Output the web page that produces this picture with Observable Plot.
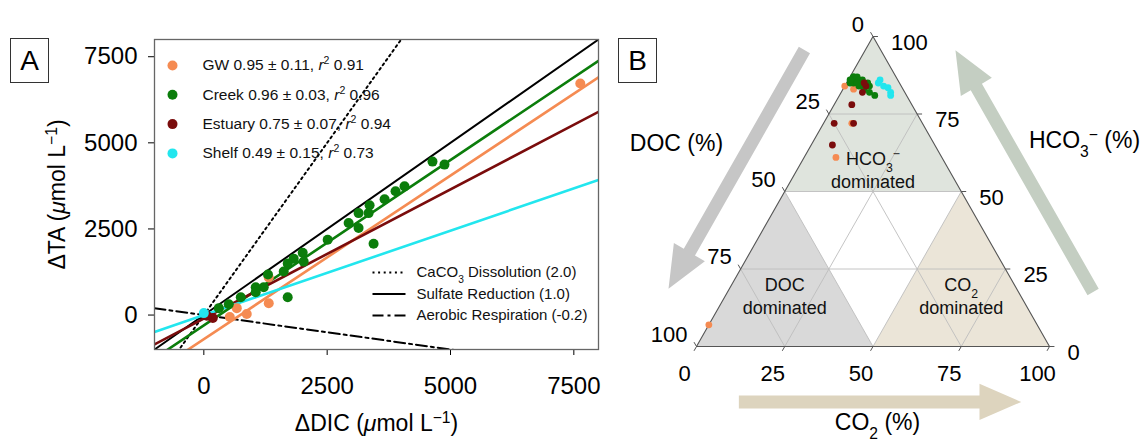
<!DOCTYPE html>
<html><head><meta charset="utf-8">
<script src="https://cdn.jsdelivr.net/npm/d3@7"></script>
<script src="https://cdn.jsdelivr.net/npm/@observablehq/plot@0.6"></script>
<style>
body{margin:0;background:#fff;}
#wrap{position:relative;width:1147px;height:440px;font-family:"Liberation Sans",Arial,sans-serif;background:#fff;overflow:hidden;}
.panel{position:absolute;top:0;}
.tag{position:absolute;border:1px solid #333;font-size:28px;display:flex;align-items:center;justify-content:center;box-sizing:border-box;background:#fff;color:#000;}
</style></head><body>
<div id="wrap">
 <div id="pa" class="panel" style="left:0"></div>
 <div id="pb" class="panel" style="left:600px"></div>
 <div class="tag" style="left:10px;top:38px;width:39px;height:45px">A</div>
 <div class="tag" style="left:618px;top:38px;width:39px;height:45px">B</div>
</div>
<script>
// ---------------- DATA ----------------
// Panel A
const groups = ["GW", "Creek", "Estuary", "Shelf"];
const slopes = [0.95, 0.96, 0.75, 0.49];
const slopeErr = [0.11, 0.03, 0.07, 0.15];
const r2 = [0.91, 0.96, 0.94, 0.73];
const intercepts = [-700, -300, -100, 0];

const gwDIC = [7631, 1316, 1316, 668, 870, 526];
const gwTA  = [6725, 1092, 345, 201, 29, -57];
const creekDIC = [4635, 4878, 4068, 3886, 3664, 3360, 3137, 3340, 2935, 3137, 3441, 2510, 2004, 2024, 1822, 1700, 1619, 1300, 1214, 1052, 1052, 749, 1700, 506, 304];
const creekTA  = [4455, 4368, 3736, 3592, 3362, 3190, 2960, 2960, 2673, 2529, 2069, 2184, 1811, 1552, 1638, 1494, 1265, 1180, 805, 805, 661, 517, 517, 316, 201];
const estDIC = [182, 60];
const estTA  = [-86, -20];
const shelfDIC = [0];
const shelfTA  = [57];

const refNames = ["CaCO{_3} Dissolution", "Sulfate Reduction", "Aerobic Respiration"];
const refSlopes = [2.0, 1.0, -0.2];

const xDomain = [-1000, 8000];
const yDomain = [-1000, 8000];
const xTicks = [0, 2500, 5000, 7500];
const yTicks = [0, 2500, 5000, 7500];

// Panel B (ternary, percent)
const ternTicks = [0, 25, 50, 75, 100];
const ternGrid = [25, 50, 75];
const gwCO2 = [0, 3, 8, 9, 0];
const gwHCO3 = [84, 83, 72, 61, 7];
const creekCO2 = [1, 1, 1, 2, 3, 4, 6, 7, 10, 2, 4, 6, 8, 1, 0.5, 3, 5];
const creekHCO3 = [87, 87, 86, 87, 86, 86, 85, 84, 81, 85, 84, 83, 82, 85, 86, 85, 84.5];
const estCO2 = [6, 6, 5, 3, 8.5, 6, 5];
const estHCO3 = [84, 82, 78, 72, 72, 65, 85];
const shelfCO2 = [9, 11, 12.5, 14, 14.5, 9];
const shelfHCO3 = [86, 84, 83.5, 82, 81, 85];

// ---------------- STYLE ----------------
const FONT = '"Liberation Sans", Arial, Helvetica, sans-serif';
const colors = ["#f58b52", "#0b7d0b", "#7a0c0c", "#22e6ee"];
const refDash = ["2,3.6", null, "11,4,3,4"];
const fmt = d3.format("d");

// rich text: {_x} subscript, {^x} superscript, {*x} italic
function rich(root) {
  const nodes = [...root.querySelectorAll("text, tspan")].filter(n => n.children.length === 0 && /\{[_^*]/.test(n.textContent));
  for (const n of nodes) {
    const s = n.textContent; n.textContent = "";
    const re = /\{([_^*])([^}]*)\}/g; let last = 0, m;
    const add = (t, k) => {
      const ts = document.createElementNS("http://www.w3.org/2000/svg", "tspan");
      ts.textContent = t;
      if (k === "^") { ts.setAttribute("baseline-shift", "super"); ts.setAttribute("font-size", "68%"); }
      if (k === "_") { ts.setAttribute("baseline-shift", "sub"); ts.setAttribute("font-size", "68%"); }
      if (k === "*") ts.setAttribute("font-style", "italic");
      n.appendChild(ts);
    };
    while ((m = re.exec(s))) { if (m.index > last) add(s.slice(last, m.index)); add(m[2], m[1]); last = re.lastIndex; }
    if (last < s.length) add(s.slice(last));
  }
}

// ---------------- PANEL A ----------------
const ptsA = [[gwDIC, gwTA], [creekDIC, creekTA], [estDIC, estTA], [shelfDIC, shelfTA]];
const marksA = [
  Plot.axisX({ticks: xTicks, tickFormat: fmt, tickSize: 6, tickPadding: 21, fontSize: 24, label: null}),
  Plot.axisY({ticks: yTicks, tickFormat: fmt, tickSize: 6, tickPadding: 11, fontSize: 24, label: null}),
];
refSlopes.forEach((s, i) => {
  marksA.push(Plot.line(xDomain.map(x => ({x, y: s * x})), {x: "x", y: "y", stroke: "#000", strokeWidth: 2, strokeDasharray: refDash[i], clip: true}));
});
groups.forEach((g, i) => {
  marksA.push(Plot.line(xDomain.map(x => ({x, y: slopes[i] * x + intercepts[i]})), {x: "x", y: "y", stroke: colors[i], strokeWidth: 2.6, clip: true}));
});
groups.forEach((g, i) => {
  marksA.push(Plot.dot(d3.zip(ptsA[i][0], ptsA[i][1]), {x: d => d[0], y: d => d[1], r: 5, fill: colors[i], clip: true}));
});
marksA.push(Plot.frame({stroke: "#666", strokeWidth: 1.3}));
groups.forEach((g, i) => {
  const label = `${g} ${slopes[i].toFixed(2)} ± ${slopeErr[i].toFixed(2)}, {*r}{^2} ${r2[i].toFixed(2)}`;
  marksA.push(Plot.dot([g], {frameAnchor: "top-left", dx: 18, dy: 26 + i * 29.3, r: 5, fill: colors[i]}));
  marksA.push(Plot.text([label], {frameAnchor: "top-left", dx: 48, dy: 26 + i * 29.3, text: d => d, textAnchor: "start", lineAnchor: "middle", fontSize: 15.5, fill: "#111"}));
});
const lineSym = {draw(ctx) { ctx.moveTo(-16.5, 0); ctx.lineTo(16.5, 0); }};
refNames.forEach((n, i) => {
  const label = `${n} (${refSlopes[i].toFixed(1)})`;
  marksA.push(Plot.dot([n], {frameAnchor: "top-left", dx: 234.5, dy: 233 + i * 21.5, symbol: lineSym, fill: "none", stroke: "#000", strokeWidth: 2, strokeDasharray: refDash[i]}));
  marksA.push(Plot.text([label], {frameAnchor: "top-left", dx: 262, dy: 233 + i * 21.5, text: d => d, textAnchor: "start", lineAnchor: "middle", fontSize: 15, fill: "#111"}));
});
marksA.push(Plot.text(["ΔDIC ({*μ}mol L{^−1})"], {frameAnchor: "bottom", dy: 74, text: d => d, textAnchor: "middle", lineAnchor: "middle", fontSize: 23}));
marksA.push(Plot.text(["ΔTA ({*μ}mol L{^−1})"], {frameAnchor: "left", dx: -97, rotate: -90, text: d => d, textAnchor: "middle", lineAnchor: "middle", fontSize: 23}));

const pa = Plot.plot({
  width: 600, height: 440,
  marginLeft: 154, marginRight: 2, marginTop: 39, marginBottom: 91,
  style: {fontFamily: FONT, fontSize: "15px", color: "#000", background: "transparent", overflow: "visible"},
  x: {domain: xDomain},
  y: {domain: yDomain},
  marks: marksA
});
rich(pa);
document.getElementById("pa").appendChild(pa);

// ---------------- PANEL B ----------------
const S3 = Math.sqrt(3) / 2;
const tern = (c, h) => [c + h / 2, h * S3]; // fractions of CO2 and HCO3
const T = tern(0, 1), BL = tern(0, 0), BR = tern(1, 0);
const X = d => d[0], Y = d => d[1];

const regHCO3 = [tern(0, 1), tern(0, .5), tern(.5, .5), tern(0, 1)];
const regDOC = [tern(0, 0), tern(0, .5), tern(.5, 0), tern(0, 0)];
const regCO2 = [tern(1, 0), tern(.5, 0), tern(.5, .5), tern(1, 0)];
const centroid = r => [(r[0][0] + r[1][0] + r[2][0]) / 3, (r[0][1] + r[1][1] + r[2][1]) / 3];

const gridSegs = [];
ternGrid.forEach(p => {
  const v = p / 100;
  gridSegs.push([tern(0, v), tern(1 - v, v)]);      // HCO3 = v
  gridSegs.push([tern(v, 0), tern(v, 1 - v)]);      // CO2 = v
  gridSegs.push([tern(0, 1 - v), tern(1 - v, 0)]);  // DOC = v
});

const TL = 0.014;
const tickSegs = [];
ternTicks.forEach(p => {
  const v = p / 100;
  const b = tern(v, 0); tickSegs.push([b, [b[0] - 0.5 * TL, b[1] - S3 * TL]]);
  const r = tern(1 - v, v); tickSegs.push([r, [r[0] + TL, r[1]]]);
  const l = tern(0, 1 - v); tickSegs.push([l, [l[0] - 0.5 * TL, l[1] + S3 * TL]]);
});

const PX = 355;
function arrowPoly(A, B, f0, f1, offPx) {
  const dx = B[0] - A[0], dy = B[1] - A[1], L = Math.hypot(dx, dy), ux = dx / L, uy = dy / L;
  let nx = -uy, ny = ux;
  const C = [0.5, S3 / 3], M = [(A[0] + B[0]) / 2, (A[1] + B[1]) / 2];
  if ((C[0] - M[0]) * nx + (C[1] - M[1]) * ny > 0) { nx = -nx; ny = -ny; }
  const off = offPx / PX, sw = 13 / PX / 2, hw = 36 / PX / 2, hl = 42 / PX;
  const p = (t, s) => [A[0] + ux * t + nx * (off + s), A[1] + uy * t + ny * (off + s)];
  const t0 = f0 * L, t1 = f1 * L, tb = t1 - hl;
  return [p(t0, sw), p(tb, sw), p(tb, hw), p(t1, 0), p(tb, -hw), p(tb, -sw), p(t0, -sw), p(t0, sw)];
}

const ptsB = [[gwCO2, gwHCO3], [creekCO2, creekHCO3], [estCO2, estHCO3], [shelfCO2, shelfHCO3]];

const marksB = [
  Plot.line(arrowPoly(T, BL, 0.13, 0.90, 53), {x: X, y: Y, fill: "#c6c6c6", stroke: "none"}),
  Plot.line(arrowPoly(BR, T, 0.07, 0.85, 65), {x: X, y: Y, fill: "#c4cec2", stroke: "none"}),
  Plot.line(arrowPoly(BL, BR, 0.12, 0.92, 55), {x: X, y: Y, fill: "#ddd4be", stroke: "none"}),
  Plot.line(regHCO3, {x: X, y: Y, fill: "#dfe4dd", stroke: "none"}),
  Plot.line(regDOC, {x: X, y: Y, fill: "#d9d9d9", stroke: "none"}),
  Plot.line(regCO2, {x: X, y: Y, fill: "#ebe5d8", stroke: "none"}),
  Plot.link(gridSegs, {x1: d => d[0][0], y1: d => d[0][1], x2: d => d[1][0], y2: d => d[1][1], stroke: "#bdbdbd", strokeWidth: 0.9}),
  Plot.line([T, BL, BR, T], {x: X, y: Y, stroke: "#555", strokeWidth: 1.1}),
  Plot.link(tickSegs, {x1: d => d[0][0], y1: d => d[0][1], x2: d => d[1][0], y2: d => d[1][1], stroke: "#555", strokeWidth: 1}),
  Plot.text(ternTicks, {x: p => tern(p / 100, 0)[0], y: p => tern(p / 100, 0)[1], text: p => String(p), dx: -12, dy: 27, fontSize: 22}),
  Plot.text(ternTicks, {x: p => tern(0, 1 - p / 100)[0], y: p => tern(0, 1 - p / 100)[1], text: p => String(p), dx: -9, dy: -12, textAnchor: "end", fontSize: 22}),
  Plot.text(ternTicks, {x: p => tern(1 - p / 100, p / 100)[0], y: p => tern(1 - p / 100, p / 100)[1], text: p => String(p), dx: 18, dy: 6, textAnchor: "start", fontSize: 22}),
  Plot.text(["HCO{_3}{^−}\ndominated"], {x: () => centroid(regHCO3)[0], y: () => centroid(regHCO3)[1], text: d => d, dy: 29, fontSize: 18, lineHeight: 1.33, fill: "#111"}),
  Plot.text(["DOC\ndominated"], {x: () => centroid(regDOC)[0], y: () => centroid(regDOC)[1], text: d => d, dy: 0, fontSize: 18, lineHeight: 1.33, fill: "#111"}),
  Plot.text(["CO{_2}\ndominated"], {x: () => centroid(regCO2)[0], y: () => centroid(regCO2)[1], text: d => d, dy: 0, fontSize: 18, lineHeight: 1.33, fill: "#111"}),
];
groups.forEach((g, i) => {
  const pts = d3.zip(ptsB[i][0], ptsB[i][1]).map(([c, h]) => tern(c / 100, h / 100));
  marksB.push(Plot.dot(pts, {x: X, y: Y, r: 3.4, fill: colors[i]}));
});
const titleOpts = {text: d => d, textAnchor: "middle", lineAnchor: "middle", fontSize: 23, frameAnchor: "top-left"};
marksB.push(Plot.text(["DOC (%)"], {...titleOpts, dx: -20, dy: 107}));
marksB.push(Plot.text(["HCO{_3}{^−} (%)"], {...titleOpts, dx: 388, dy: 104}));
marksB.push(Plot.text(["CO{_2} (%)"], {...titleOpts, dx: 181, dy: 386}));

const pb = Plot.plot({
  width: 547, height: 440,
  marginLeft: 96, marginRight: 98, marginTop: 36, marginBottom: 94,
  style: {fontFamily: FONT, fontSize: "15px", color: "#000", background: "transparent", overflow: "visible"},
  x: {domain: [0, 1], axis: null},
  y: {domain: [0, S3], axis: null},
  marks: marksB
});
rich(pb);
document.getElementById("pb").appendChild(pb);
</script>
</body></html>
